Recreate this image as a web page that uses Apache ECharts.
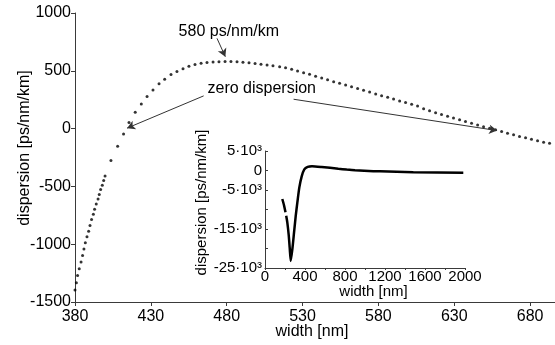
<!DOCTYPE html>
<html>
<head>
<meta charset="utf-8">
<script src="https://cdn.jsdelivr.net/npm/echarts@6/dist/echarts.min.js"></script>
<style>
  html, body { margin: 0; padding: 0; background: #fff; }
  #chart { width: 555px; height: 345px; }
</style>
</head>
<body>
<div id="chart"></div>
<script>
// Dispersion vs. waveguide width, main panel (nm, ps/nm/km)
const mainWidth = [
  380.0, 380.9, 381.7, 382.8, 384.0, 385.0, 385.9, 386.8, 387.9, 389.0,
  389.9, 390.9, 392.1, 392.9, 394.0, 395.2, 396.0, 396.9, 398.0, 398.9,
  399.8, 403.7, 408.1, 412.0, 415.6,
  419.7, 423.7, 427.5, 431.4, 435.4, 439.1, 443.3, 447.2, 451.2, 455.1,
  459.1, 463.1, 467.0, 471.0, 474.9, 478.9, 482.8, 486.8, 490.7, 494.7,
  498.7, 502.6, 506.6, 510.5, 514.9, 518.8, 522.8, 526.7, 530.7, 534.6,
  538.6, 542.6, 546.5, 550.5, 554.4, 558.4, 562.3, 566.3, 570.2, 574.2,
  578.2, 582.1, 586.1, 590.0, 594.0, 597.9, 601.9,
  605.8, 609.8, 613.7, 617.7, 621.6, 625.6, 629.5, 633.5, 637.4, 641.4,
  645.4, 649.3, 653.3, 657.2, 661.2, 665.1, 669.1, 673.0, 677.0, 680.9,
  684.9, 688.9, 692.8
];
const mainDispersion = [
  -1396, -1333, -1270, -1212, -1155, -1097, -1042, -988, -936, -887,
  -838, -786, -740, -697, -653, -610, -570, -527, -489, -449,
  -411, -277, -152, -46, 52,
  142, 213, 277, 334, 389, 427, 467, 493, 518, 539,
  555, 566, 572, 576, 579, 580, 580, 578, 575, 570,
  564, 557, 550, 543, 536, 527, 513, 499, 484, 470,
  453, 438, 423, 406, 392, 378, 363, 346, 332, 317,
  300, 285, 271, 257, 239, 225, 211,
  196, 172, 155, 138, 123, 107, 92, 76, 61, 47,
  32, 17, 3, -11, -26, -40, -54, -69, -80, -92,
  -106, -118, -126
];

// Inset: full width sweep 0-2000 nm
const insetWidth = [
  173, 190, 205, 209, 212, 223, 237, 247, 257, 273,
  290, 307, 323, 343, 367, 393, 427, 470, 567, 733,
  817, 900, 1083, 1150, 1483, 1983
];
const insetDispersion = [
  -7300, -8900, -10700, '-', -11600, -13300, -16500, -19800, -23200, -20300,
  -16000, -11700, -8300, -4400, -1500, 300, 950, 1100, 900, 450,
  250, 80, -180, -220, -430, -600
];

// Axis ticks (main x-axis runs off the right edge at ~696 nm)
const mainXTicks = { min: 380, max: 696.4, step: 50 };
const mainYTicks = { min: -1500, max: 1000, step: 500 };
const insetXTicks = { min: 0, max: 2000, step: 200, labelStep: 400 };
const insetYTicks = { min: -25000, max: 5000, step: 5000, hidden: [-10000, -20000] };

// Annotation anchors (data units of the main panel)
const peakLabel = { text: '580 ps/nm/km', at: [481.4, 840], arrow: [[473.6, 781], [479.1, 622]] };
const zeroLabel = {
  text: 'zero dispersion', at: [503.1, 343],
  arrows: [[[464.8, 283], [414.3, 4]], [[524.1, 254], [658.2, -17]]]
};

const FONT = 'Liberation Sans, Arial, sans-serif';
const AXIS_COLOR = '#3a3a3a';

const mainData = mainWidth.map((w, i) => [w, mainDispersion[i]]);
const insetData = insetWidth.map((w, i) => [w, insetDispersion[i]]);

function sciLabel(v) {
  if (v === 0) return '0';
  if (insetYTicks.hidden.indexOf(v) >= 0) return '';
  return (v / 1000) + '\u00B710\u00B3';
}

function mainXLabel(v) {
  return (v - mainXTicks.min) % mainXTicks.step === 0 ? String(v) : '';
}

const arrowLine = { color: '#333', width: 1, type: 'solid' };

const chart = echarts.init(document.getElementById('chart'), null, { renderer: 'canvas' });
chart.setOption({
  animation: false,
  backgroundColor: '#fff',
  textStyle: { fontFamily: FONT, color: '#000' },
  grid: [
    { left: 75, right: 0, top: 13, bottom: 43, containLabel: false, outerBoundsMode: 'none' },
    { left: 265, top: 151, width: 200, height: 117, containLabel: false, outerBoundsMode: 'none' }
  ],
  xAxis: [
    {
      gridIndex: 0, type: 'value',
      min: mainXTicks.min, max: mainXTicks.max, interval: mainXTicks.step,
      name: 'width [nm]', nameLocation: 'middle', nameGap: 22, nameMoveOverlap: false,
      nameTextStyle: { fontSize: 16, color: '#000', fontFamily: FONT, padding: [0, 0, 0, -6] },
      axisLine: { onZero: false, lineStyle: { color: AXIS_COLOR, width: 1 } },
      axisTick: { show: true, inside: false, length: 4, lineStyle: { color: AXIS_COLOR } },
      axisLabel: { fontSize: 16, color: '#000', margin: 7, showMaxLabel: false, fontFamily: FONT, formatter: mainXLabel },
      splitLine: { show: false }
    },
    {
      gridIndex: 1, type: 'value',
      min: insetXTicks.min, max: insetXTicks.max, interval: insetXTicks.step,
      name: 'width [nm]', nameLocation: 'middle', nameGap: 16, nameMoveOverlap: false,
      nameTextStyle: { fontSize: 15, color: '#000', fontFamily: FONT, padding: [0, 0, 0, 17] },
      axisLine: { onZero: false, lineStyle: { color: AXIS_COLOR, width: 1 } },
      axisTick: { show: true, inside: false, length: 2, lineStyle: { color: AXIS_COLOR } },
      axisLabel: {
        fontSize: 15, color: '#000', margin: 1, fontFamily: FONT,
        formatter: v => (v % insetXTicks.labelStep === 0 ? String(v) : '')
      },
      splitLine: { show: false }
    }
  ],
  yAxis: [
    {
      gridIndex: 0, type: 'value',
      min: mainYTicks.min, max: mainYTicks.max, interval: mainYTicks.step,
      name: 'dispersion [ps/nm/km]', nameLocation: 'middle', nameGap: 42, nameMoveOverlap: false,
      nameTextStyle: { fontSize: 16, color: '#000', fontFamily: FONT, padding: [0, 0, 0, 19] },
      axisLine: { show: true, onZero: false, lineStyle: { color: AXIS_COLOR, width: 1 } },
      axisTick: { show: true, inside: false, length: 4, lineStyle: { color: AXIS_COLOR } },
      axisLabel: { fontSize: 16, color: '#000', margin: 4, fontFamily: FONT, formatter: v => String(v) },
      splitLine: { show: false }
    },
    {
      gridIndex: 1, type: 'value',
      min: insetYTicks.min, max: insetYTicks.max, interval: insetYTicks.step,
      name: 'dispersion [ps/nm/km]', nameLocation: 'middle', nameGap: 56, nameMoveOverlap: false,
      nameTextStyle: { fontSize: 15, color: '#000', fontFamily: FONT, padding: [0, 0, 0, 14] },
      axisLine: { show: true, onZero: false, lineStyle: { color: AXIS_COLOR, width: 1 } },
      axisTick: { show: true, inside: true, length: 3, lineStyle: { color: AXIS_COLOR } },
      axisLabel: { fontSize: 15, color: '#000', margin: 3, fontFamily: FONT, formatter: sciLabel },
      splitLine: { show: false }
    }
  ],
  series: [
    {
      name: 'dispersion',
      type: 'scatter',
      xAxisIndex: 0, yAxisIndex: 0,
      data: mainData,
      symbol: 'circle',
      symbolSize: 3,
      clip: false,
      itemStyle: { color: '#000' },
      markLine: {
        silent: true,
        symbol: ['none', 'arrow'],
        symbolSize: [7, 8],
        label: { show: false },
        lineStyle: arrowLine,
        data: [
          [{ coord: peakLabel.arrow[0] }, { coord: peakLabel.arrow[1] }],
          [{ coord: zeroLabel.arrows[0][0] }, { coord: zeroLabel.arrows[0][1] }],
          [{ coord: zeroLabel.arrows[1][0] }, { coord: zeroLabel.arrows[1][1] }]
        ]
      },
      markPoint: {
        silent: true,
        symbol: 'circle',
        symbolSize: 0,
        label: {
          show: true, position: 'inside', formatter: '{b}',
          fontSize: 16, color: '#000', fontFamily: FONT
        },
        data: [
          { name: peakLabel.text, coord: peakLabel.at },
          { name: zeroLabel.text, coord: zeroLabel.at }
        ]
      }
    },
    {
      name: 'dispersion (full range)',
      type: 'line',
      xAxisIndex: 1, yAxisIndex: 1,
      data: insetData,
      showSymbol: false,
      smooth: 0.2,
      connectNulls: false,
      lineStyle: { color: '#000', width: 2.5 }
    }
  ]
});
</script>
</body>
</html>
